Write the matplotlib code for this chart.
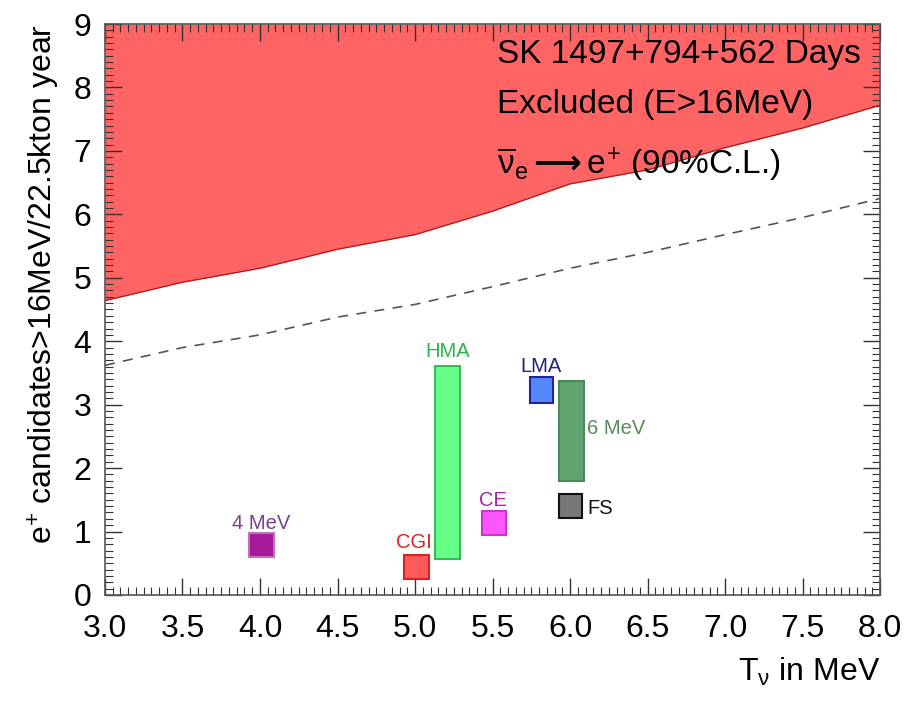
import numpy as np
import matplotlib
matplotlib.use('Agg')
from matplotlib import pyplot as plt
from matplotlib.ticker import MultipleLocator, FormatStrFormatter

plt.rcParams['font.family'] = ['Liberation Sans', 'DejaVu Sans']
plt.rcParams['mathtext.fontset'] = 'custom'
plt.rcParams['mathtext.rm'] = 'Liberation Sans'
plt.rcParams['mathtext.it'] = 'Liberation Sans'
plt.rcParams['mathtext.bf'] = 'DejaVu Sans:bold'

# excluded region lower edge (90% C.L.)
limit_T = [3.0, 3.5, 4.0, 4.5, 5.0, 5.5, 6.0, 6.5, 7.0, 7.5, 8.0]
limit_N = [4.64, 4.93, 5.15, 5.45, 5.68, 6.05, 6.48, 6.70, 7.05, 7.36, 7.72]

# dashed curve
dash_T = [3.0, 3.5, 4.0, 4.5, 5.0, 5.5, 6.0, 6.5, 7.0, 7.5, 8.0]
dash_N = [3.62, 3.90, 4.10, 4.38, 4.58, 4.86, 5.15, 5.40, 5.68, 5.95, 6.25]

# model predictions (boxes)
models = ['4 MeV', 'CGI', 'HMA', 'CE', 'LMA', '6 MeV', 'FS']
box_x0 = [3.93, 4.93, 5.13, 5.43, 5.74, 5.93, 5.93]
box_x1 = [4.09, 5.09, 5.29, 5.59, 5.89, 6.09, 6.08]
box_y0 = [0.60, 0.25, 0.57, 0.95, 3.03, 1.80, 1.22]
box_y1 = [0.97, 0.63, 3.61, 1.32, 3.43, 3.38, 1.59]
box_fill = ['#a8199a', '#ff5a5a', '#66ff88', '#ff55ff', '#5588ff', '#5fa36f', '#777777']
box_edge = ['#c070c0', '#e02020', '#33bb55', '#cc33cc', '#222299', '#4a8a5a', '#111111']

# label positions
lab_x = [4.01, 4.99, 5.21, 5.50, 5.81, 6.11, 6.11]
lab_y = [1.12, 0.82, 3.84, 1.49, 3.60, 2.63, 1.37]
lab_ha = ['center', 'center', 'center', 'center', 'center', 'left', 'left']
lab_color = ['#7a3d8f', '#dd2222', '#2db34a', '#aa22aa', '#222277', '#5a8a5a', '#111111']

fig = plt.figure(figsize=(9.21, 7.11), dpi=100)
ax = fig.add_axes([0.114, 0.1632, 0.8415, 0.803])

ax.fill_between(limit_T, limit_N, 9.0, color='#ff6464', lw=0, zorder=1)
ax.plot(limit_T, limit_N, color='#b01818', lw=0.9, zorder=2)
ax.plot(dash_T, dash_N, color='#555555', lw=1.2, ls=(0, (6, 5)), zorder=2)

for i in range(len(models)):
  ax.bar((box_x0[i] + box_x1[i]) / 2, box_y1[i] - box_y0[i], width=box_x1[i] - box_x0[i],
         bottom=box_y0[i], color=box_fill[i], edgecolor=box_edge[i], lw=1.5, zorder=3)
  ax.text(lab_x[i], lab_y[i], models[i], ha=lab_ha[i], va='center', fontsize=14.5,
          color=lab_color[i], zorder=4)

ax.text(5.53, 8.52, 'SK 1497+794+562 Days', fontsize=24, va='center', ha='left')
ax.text(5.53, 7.73, 'Excluded (E>16MeV)', fontsize=24, va='center', ha='left')
ax.text(5.53, 6.80, r'$\overline{\nu}_{e}\mathbf{\longrightarrow}e^{+}$ (90%C.L.)', fontsize=24,
        va='center', ha='left')

ax.set_xlim(3.0, 8.0)
ax.set_ylim(0, 9)
ax.xaxis.set_major_locator(MultipleLocator(0.5))
ax.xaxis.set_minor_locator(MultipleLocator(0.05))
ax.yaxis.set_major_locator(MultipleLocator(1))
ax.yaxis.set_minor_locator(MultipleLocator(0.1))
ax.xaxis.set_major_formatter(FormatStrFormatter('%.1f'))
ax.tick_params(which='both', direction='in', top=True, right=True, labelsize=23, color='#333333')
ax.tick_params(which='major', length=12, width=1.0, pad=14)
ax.tick_params(which='minor', length=6, width=0.8)
ax.tick_params(axis='y', which='major', pad=10)
for s in ax.spines.values():
  s.set_color('#555555')
  s.set_linewidth(1.2)

ax.set_xlabel(r'T$_{\nu}$ in MeV', fontsize=23, loc='right', labelpad=8)
ax.set_ylabel(r'e$^{+}$ candidates>16MeV/22.5kton year', fontsize=23, loc='top', labelpad=8)

fig.savefig('out.png', dpi=100)
